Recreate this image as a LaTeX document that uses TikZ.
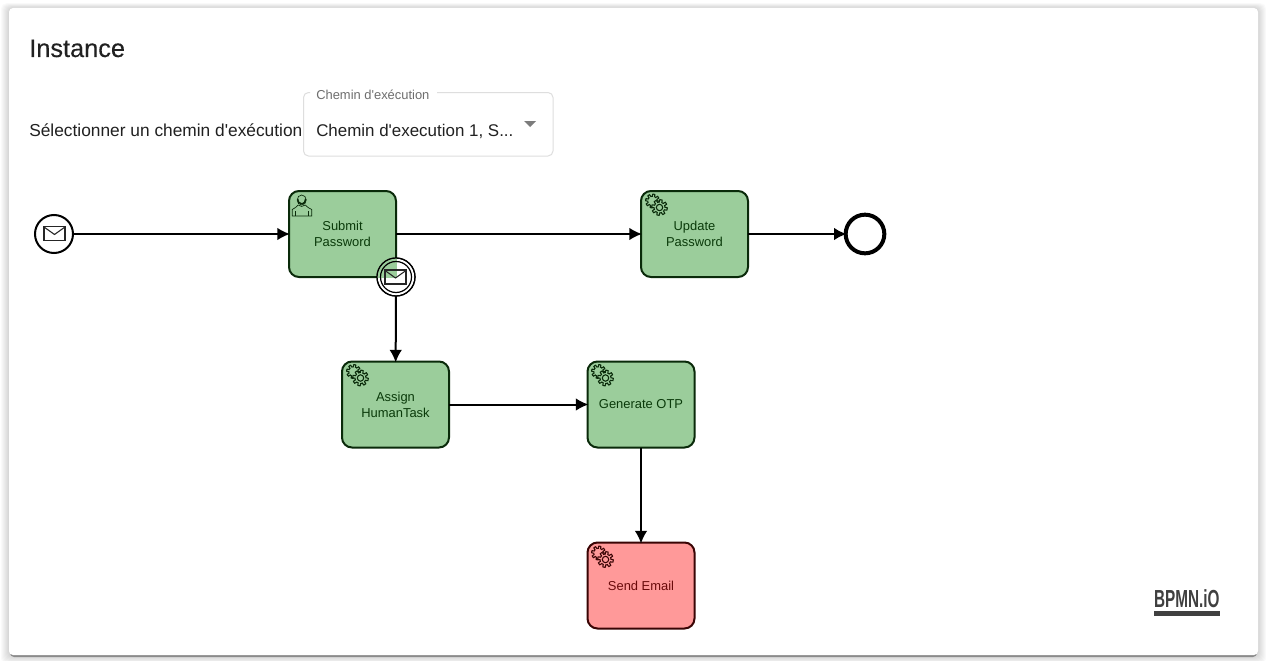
\documentclass[tikz,border=0pt]{standalone}
\usepackage{fontspec}
\usetikzlibrary{arrows.meta}
\setmainfont[Ligatures=TeXOff]{Liberation Sans}
\newfontfamily\titlefont[Ligatures=TeXOff,FakeBold=0.25]{Liberation Sans}
\definecolor{taskgreen}{HTML}{9BCD9B}
\definecolor{taskgreenline}{HTML}{0A2A0A}
\definecolor{taskgreentext}{HTML}{0A3A0A}
\definecolor{taskred}{HTML}{FF9999}
\definecolor{taskredline}{HTML}{3A0505}
\definecolor{taskredtext}{HTML}{6A0A0A}
\definecolor{labelgrey}{HTML}{212121}
\definecolor{hintgrey}{HTML}{6E6E6E}
\definecolor{logogrey}{HTML}{404040}
\tikzset{
	task/.style={draw=taskgreenline,fill=taskgreen,text=taskgreentext,line width=1.5pt,rounded corners=7.5pt,
		minimum width=80.25pt,minimum height=64.5pt,outer sep=0pt,align=center,font=\fontsize{9.7}{12}\selectfont},
	failedtask/.style={task,draw=taskredline,fill=taskred,text=taskredtext},
	event/.style={draw,circle,fill=white,line width=1.5pt,minimum size=28.5pt,inner sep=0pt,outer sep=0pt},
	flow/.style={-{Latex[length=9.5pt,width=9.5pt]},line width=1.5pt,shorten >=-.75pt},
	pics/mailicon/.style={code={
		\draw[line width=.95pt,black!85,line join=miter] (-10.5,-7) rectangle (10.5,7);
		\draw[line width=.8pt,black!85] (-10.5,-6.5) -- (0,1) -- (10.5,-6.5);
	}},
	pics/gearpair/.style={code={
		\draw[line width=.8pt] plot[domain=0:360,samples=145] ({(5.8+1.1*sign(sin(8*\x)))*cos(\x)},{(5.8+1.1*sign(sin(8*\x)))*sin(\x)}) -- cycle;
		\filldraw[fill=#1,line width=.8pt] plot[domain=0:360,samples=145] ({7+(6.6+1.2*sign(sin(8*\x)))*cos(\x)},{6.5+(6.6+1.2*sign(sin(8*\x)))*sin(\x)}) -- cycle;
		\draw[line width=.8pt] (7,6.5) circle (3.2);
	}},
	pics/usericon/.style={code={
		\draw[line width=.5pt] (0,0) ellipse (4.5 and 5);
		\draw[line width=1.1pt] (-4,-1) arc (190:-10:4 and 4);
		\draw[line width=.5pt] (-3.5,5) to[bend left=10] (-9.5,9.5) -- (-9.5,16) -- (10,16) -- (10,9.5) to[bend left=10] (3.5,5);
		\draw[line width=.5pt] (-6,16) -- (-6,11) (6.5,16) -- (6.5,11);
		\draw[line width=.5pt] (-3.5,5) to[bend right=45] (3.5,5);
	}}
}
\begin{document}
\begin{tikzpicture}[>=latex,x=0.75pt,y=-0.75pt]
	\useasboundingbox (0,0) rectangle (1266,660);
	\fill[white] (0,0) rectangle (1266,660);

	% Card with its shadow
	\foreach \s in {1,...,8} {
		\fill[black,opacity=0.018,rounded corners=4pt] (9-\s,8-0.6*\s) rectangle (1258+\s,656+\s);
	}
	\fill[black,opacity=0.35,rounded corners=3pt] (10,10) rectangle (1257,657);
	\fill[white,rounded corners=3pt] (9,8) rectangle (1258,655);

	% Header
	\node[anchor=base west,inner sep=0pt,text=labelgrey,font=\titlefont\fontsize{19}{19}\selectfont] (title) at (29,57) {Instance};
	\node[anchor=base west,inner sep=0pt,text=labelgrey,font=\fontsize{13}{13}\selectfont] (selectlabel) at (29,136) {Sélectionner un chemin d'exécution};

	% Select box
	\draw[black!13,line width=.75pt,rounded corners=3.75pt] (310,92.5) -- (303.5,92.5) -- (303.5,156) -- (553,156) -- (553,92.5) -- (437,92.5);
	\node[anchor=base west,inner sep=0pt,text=hintgrey,font=\fontsize{9.7}{10}\selectfont] (selecthint) at (316,99) {Chemin d'exécution};
	\node[anchor=base west,inner sep=0pt,text=labelgrey,font=\fontsize{12.7}{13}\selectfont] (selectvalue) at (316,136) {Chemin d'execution 1, S...};
	\fill[hintgrey!90] (524,121) -- (536,121) -- (530,127) -- cycle;

	% Tasks
	\node[task] (submit) at (342.5,234) {Submit\\Password};
	\node[task] (update) at (694.5,234) {Update\\Password};
	\node[task] (assign) at (395.5,404.5) {Assign\\HumanTask};
	\node[task] (generate) at (641,404.5) {Generate OTP};
	\node[failedtask] (send) at (641,585.5) {Send Email};

	% Events
	\node[event] (start) at (54,234) {};
	\node[event,line width=3pt,minimum size=29pt] (end) at (865,234) {};
	\node[event,line width=.9pt] (boundary) at (396,277) {};
	\begin{scope}
		\clip (396,277) circle (19);
		\fill[taskgreen] (376,257) rectangle (396.5,277.5);
	\end{scope}
	\draw[line width=.9pt] (boundary.center) circle (19);
	\draw[line width=.9pt] (boundary.center) circle (15.5);

	% Icons
	\pic at (54.5,233.5) {mailicon};
	\pic at (395.5,277) {mailicon};
	\pic[color=taskgreenline] at (301.7,200) {usericon};
	\pic[color=taskgreenline] at (652.5,201) {gearpair=taskgreen};
	\pic[color=taskgreenline] at (353.5,371.5) {gearpair=taskgreen};
	\pic[color=taskgreenline] at (598.5,371.5) {gearpair=taskgreen};
	\pic[color=taskredline] at (598.5,553) {gearpair=taskred};

	% Lines between the nodes
	\draw[flow] (start) -- (submit);
	\draw[flow] (submit) -- (update);
	\draw[flow] (update) -- (end);
	\draw[flow] (boundary) -- (assign);
	\draw[flow] (assign) -- (generate);
	\draw[flow] (generate) -- (send);

	% Logo
	\node[anchor=base west,inner sep=0pt,text=logogrey,xscale=0.62,font=\bfseries\fontsize{18.5}{19}\selectfont] (logo) at (1154,607.5) {BPMN.iO};
	\fill[logogrey] (1154,611) rectangle (1220,616);
\end{tikzpicture}
\end{document}
